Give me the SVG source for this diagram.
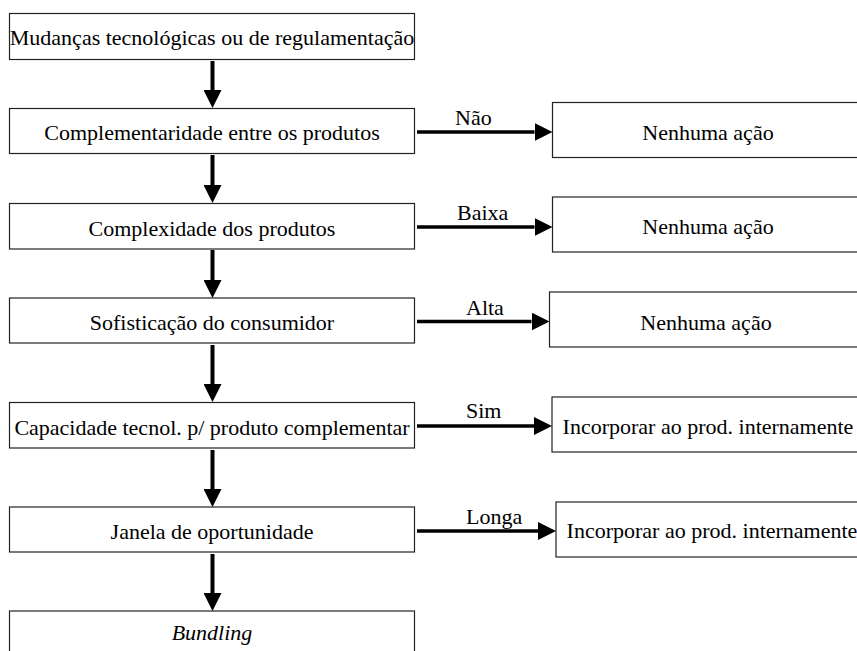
<svg xmlns="http://www.w3.org/2000/svg" width="857" height="651" viewBox="0 0 857 651">
<style>
.box{fill:#fff;stroke:#222;stroke-width:1.2}
.t{font-size:22px;fill:#000;text-anchor:middle}
.lbl{font-size:22px;fill:#000}
.v{stroke:#000;stroke-width:4;fill:none}
.h{stroke:#000;stroke-width:3.5;fill:none}
</style>
<defs>
<marker id="ah" markerUnits="userSpaceOnUse" markerWidth="18" markerHeight="18" refX="0" refY="9" orient="auto" viewBox="0 0 18 18">
<path d="M0,0 L18,9 L0,18 z" fill="#000"/>
</marker>
</defs>
<rect width="857" height="651" fill="#fff"/>
<g font-family="'Liberation Serif', 'Times New Roman', Tinos, 'DejaVu Serif', serif">
<g id="n1"><rect class="box" x="9.5" y="13.5" width="405" height="46"/><text class="t" x="212" y="45">Mudanças tecnológicas ou de regulamentação</text></g>
<g id="n2"><rect class="box" x="9.5" y="108.5" width="405" height="45"/><text class="t" x="212" y="140">Complementaridade entre os produtos</text></g>
<g id="n3"><rect class="box" x="9.5" y="203.5" width="405" height="45.5"/><text class="t" x="212" y="236">Complexidade dos produtos</text></g>
<g id="n4"><rect class="box" x="9.5" y="298" width="405" height="45"/><text class="t" x="212" y="330">Sofisticação do consumidor</text></g>
<g id="n5"><rect class="box" x="9.5" y="402.5" width="405" height="45.5"/><text class="t" x="212" y="435">Capacidade tecnol. p/ produto complementar</text></g>
<g id="n6"><rect class="box" x="9.5" y="507" width="405" height="45"/><text class="t" x="212" y="539">Janela de oportunidade</text></g>
<g id="n7"><rect class="box" x="9.5" y="611" width="405" height="46"/><text class="t" x="212" y="640" font-style="italic">Bundling</text></g>
<g id="r1"><rect class="box" x="552.5" y="102.5" width="312" height="55"/><text class="t" x="708" y="140">Nenhuma ação</text></g>
<g id="r2"><rect class="box" x="552.5" y="197" width="312" height="55"/><text class="t" x="708" y="234">Nenhuma ação</text></g>
<g id="r3"><rect class="box" x="549.5" y="292" width="312" height="55"/><text class="t" x="706" y="330">Nenhuma ação</text></g>
<g id="r4"><rect class="box" x="552" y="397" width="312" height="55"/><text class="t" x="708" y="434">Incorporar ao prod. internamente</text></g>
<g id="r5"><rect class="box" x="556" y="502" width="312" height="55"/><text class="t" x="712" y="538">Incorporar ao prod. internamente</text></g>
<g id="connectors">
<line class="v" x1="212.5" y1="61" x2="212.5" y2="90" marker-end="url(#ah)"/>
<line class="v" x1="212.5" y1="155" x2="212.5" y2="185" marker-end="url(#ah)"/>
<line class="v" x1="212.5" y1="250" x2="212.5" y2="280" marker-end="url(#ah)"/>
<line class="v" x1="212.5" y1="345" x2="212.5" y2="384" marker-end="url(#ah)"/>
<line class="v" x1="212.5" y1="450" x2="212.5" y2="489" marker-end="url(#ah)"/>
<line class="v" x1="212.5" y1="554" x2="212.5" y2="593" marker-end="url(#ah)"/>
<line class="h" x1="417" y1="132" x2="534.5" y2="132" marker-end="url(#ah)"/>
<line class="h" x1="417" y1="227" x2="534.5" y2="227" marker-end="url(#ah)"/>
<line class="h" x1="417" y1="321.5" x2="531.5" y2="321.5" marker-end="url(#ah)"/>
<line class="h" x1="417" y1="426" x2="534" y2="426" marker-end="url(#ah)"/>
<line class="h" x1="417" y1="531" x2="538" y2="531" marker-end="url(#ah)"/>
<text class="lbl" x="455" y="125">Não</text>
<text class="lbl" x="457" y="220">Baixa</text>
<text class="lbl" x="466" y="315">Alta</text>
<text class="lbl" x="466" y="418">Sim</text>
<text class="lbl" x="466" y="524">Longa</text>
</g>
</g>
</svg>
